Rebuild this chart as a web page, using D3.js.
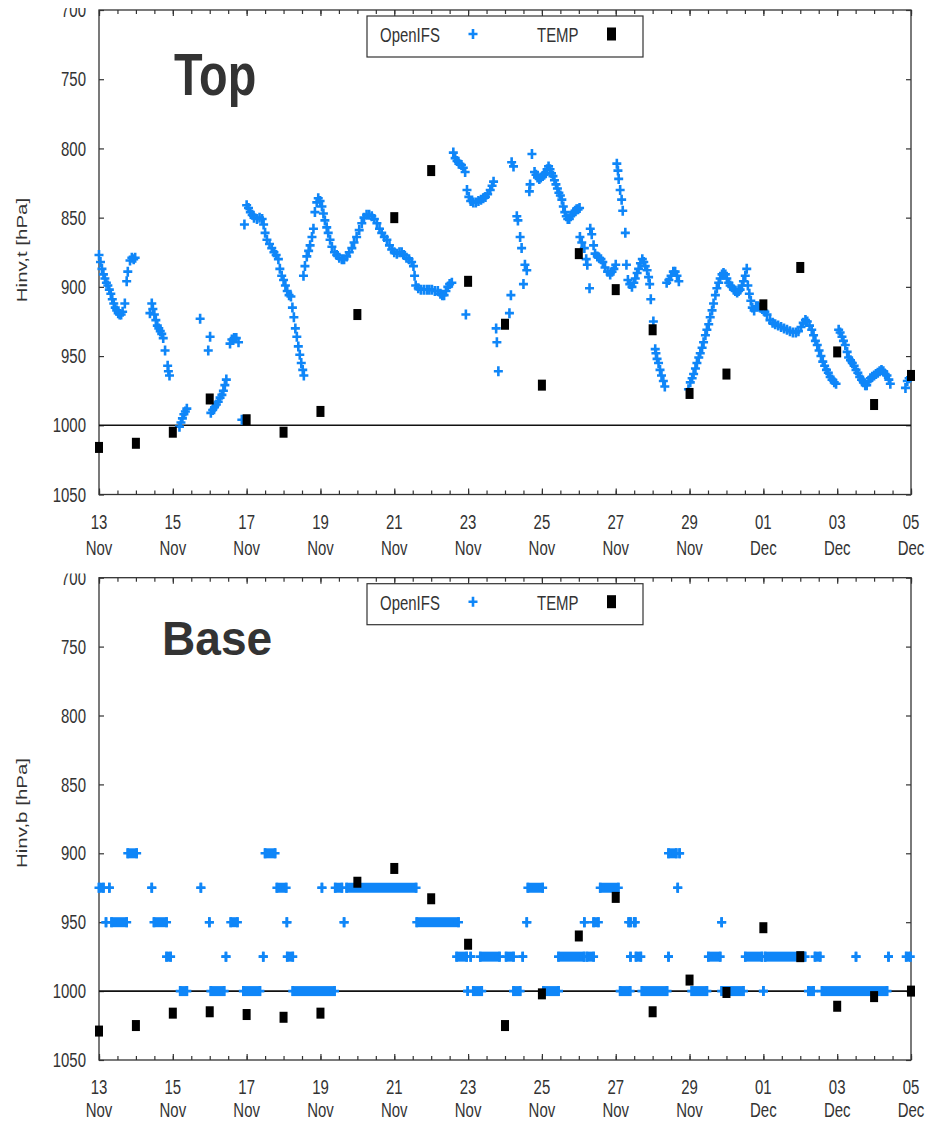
<!DOCTYPE html>
<html>
<head>
<meta charset="utf-8">
<script src="https://cdn.jsdelivr.net/npm/d3@7"></script>
<style>
  body { margin: 0; background: #fff; }
  svg { display: block; }
  text { font-family: "Liberation Sans", Arial, sans-serif; }
</style>
</head>
<body>
<div id="chart"></div>
<script>

// ---- data (days are counted as days of November, 31 = 01 Dec) ----

var tempDays = [13, 14, 15, 16, 17, 18, 19, 20, 21, 22, 23, 24, 25, 26, 27, 28, 29, 30, 31, 32, 33, 34, 35];

var tempTop = [1016, 1013, 1005, 981, 996, 1005, 990, 920, 850, 816, 896, 927, 971, 876, 902, 931, 977, 963, 913, 886, 947, 985, 964];

var tempBase = [1029, 1025, 1016, 1015, 1017, 1019, 1016, 921, 911, 933, 966, 1025, 1002, 960, 932, 1015, 992, 1001, 954, 975, 1011, 1004, 1000];

// OpenIFS inversion top [day, hPa]
var ifsTop = [
  [13.00, 877], [13.04, 882], [13.08, 887], [13.12, 891], [13.16, 894], [13.20, 897], [13.24, 899], [13.28, 902],
  [13.32, 905], [13.36, 909], [13.40, 912], [13.44, 915], [13.48, 917], [13.52, 919], [13.56, 920], [13.60, 920],
  [13.64, 918], [13.70, 912], [13.75, 896], [13.78, 889], [13.84, 881], [13.89, 879], [13.94, 880], [13.98, 879],
  [14.38, 919], [14.43, 912], [14.46, 916], [14.50, 920], [14.54, 924], [14.58, 928], [14.62, 930], [14.66, 932],
  [14.70, 934], [14.74, 937], [14.79, 946], [14.86, 957], [14.88, 961], [14.91, 964],
  [15.18, 1001], [15.22, 998], [15.26, 995], [15.30, 992], [15.34, 990], [15.38, 988],
  [15.74, 923], [15.96, 946], [16.01, 936],
  [16.03, 991], [16.08, 989], [16.13, 987], [16.18, 985], [16.23, 983], [16.28, 980], [16.33, 978], [16.37, 975],
  [16.41, 971], [16.45, 967],
  [16.55, 941], [16.60, 938], [16.66, 937], [16.72, 937], [16.78, 940],
  [16.87, 996],
  [16.94, 855], [17.00, 841], [17.05, 843], [17.10, 846], [17.15, 848], [17.20, 850], [17.28, 851], [17.35, 850],
  [17.42, 851], [17.46, 855], [17.50, 861], [17.55, 866], [17.62, 869], [17.68, 872], [17.74, 875], [17.80, 877],
  [17.86, 880], [17.90, 887], [17.95, 892], [18.00, 895], [18.05, 899], [18.10, 903], [18.15, 906], [18.20, 907],
  [18.24, 915], [18.28, 922], [18.32, 930], [18.36, 936], [18.40, 943], [18.44, 949], [18.48, 955], [18.52, 960],
  [18.55, 964],
  [18.54, 892], [18.58, 885], [18.63, 878], [18.68, 874], [18.72, 870], [18.77, 864], [18.81, 858], [18.85, 846],
  [18.90, 839], [18.94, 836], [18.99, 838], [19.04, 842], [19.08, 847], [19.12, 852], [19.17, 857], [19.21, 861],
  [19.26, 866], [19.31, 871], [19.38, 875], [19.44, 877], [19.51, 879], [19.58, 880], [19.64, 880], [19.71, 878],
  [19.78, 875], [19.85, 872], [19.91, 868], [19.98, 864], [20.05, 859], [20.12, 854], [20.18, 850], [20.25, 848],
  [20.32, 848], [20.39, 849], [20.46, 851], [20.53, 854], [20.60, 858], [20.66, 861], [20.73, 864], [20.80, 866],
  [20.87, 870], [20.93, 873], [21.00, 875], [21.07, 876], [21.14, 875], [21.20, 875], [21.26, 877], [21.33, 879],
  [21.40, 880], [21.47, 882], [21.52, 885], [21.55, 892], [21.58, 899], [21.65, 901], [21.72, 902], [21.80, 902],
  [21.88, 902], [21.95, 902], [22.02, 902], [22.10, 903], [22.18, 903], [22.25, 905], [22.30, 906], [22.35, 906],
  [22.40, 903], [22.45, 900], [22.50, 898], [22.56, 897],
  [22.60, 803], [22.65, 807], [22.70, 809], [22.75, 811], [22.82, 812], [22.87, 814], [22.92, 817], [22.94, 920],
  [22.97, 830], [23.02, 835], [23.07, 838], [23.14, 839], [23.21, 839], [23.28, 838], [23.35, 837], [23.41, 836],
  [23.47, 835], [23.53, 833], [23.60, 830], [23.65, 827], [23.69, 824],
  [23.76, 930], [23.78, 940], [23.82, 961], [24.12, 919], [24.16, 906], [24.18, 810], [24.23, 813], [24.32, 849],
  [24.35, 852], [24.41, 864], [24.45, 872], [24.50, 898], [24.54, 884], [24.59, 888], [24.66, 831], [24.68, 826],
  [24.73, 804], [24.80, 817], [24.84, 819], [24.88, 821], [24.93, 822], [24.97, 821], [25.02, 820], [25.06, 819],
  [25.10, 818], [25.14, 815], [25.18, 813], [25.22, 815], [25.26, 818], [25.30, 820], [25.34, 823], [25.38, 826],
  [25.42, 829], [25.46, 832], [25.50, 834], [25.54, 837], [25.58, 842], [25.62, 846], [25.66, 849], [25.70, 851],
  [25.74, 851], [25.78, 849], [25.82, 848], [25.86, 846], [25.90, 845], [25.94, 844], [25.98, 844], [26.02, 843],
  [26.03, 864], [26.08, 868], [26.15, 872], [26.20, 880], [26.23, 884], [26.29, 901], [26.31, 858], [26.35, 862],
  [26.40, 870], [26.44, 876], [26.50, 878], [26.55, 879],
  [26.60, 880], [26.65, 882], [26.71, 886], [26.78, 889], [26.85, 891], [26.90, 889], [26.95, 887], [27.00, 884],
  [27.03, 811], [27.06, 816], [27.08, 822], [27.12, 830], [27.16, 837], [27.19, 845], [27.26, 861], [27.29, 884],
  [27.33, 895], [27.38, 898], [27.44, 900], [27.49, 897], [27.53, 894], [27.58, 890], [27.62, 887], [27.67, 883],
  [27.72, 880], [27.76, 882], [27.80, 885], [27.85, 888], [27.89, 893], [27.92, 898], [27.95, 909], [28.02, 925],
  [28.07, 945], [28.09, 948], [28.12, 952], [28.16, 955], [28.20, 960], [28.24, 964], [28.29, 968], [28.33, 972],
  [28.38, 897], [28.44, 895], [28.50, 892], [28.56, 889], [28.61, 889], [28.66, 892], [28.71, 896],
  [28.97, 974], [29.02, 969], [29.07, 966], [29.11, 963], [29.16, 959], [29.20, 955], [29.25, 951], [29.29, 948],
  [29.34, 944], [29.38, 940], [29.43, 935], [29.47, 931], [29.52, 927], [29.56, 922], [29.61, 917], [29.65, 912],
  [29.70, 906], [29.74, 901], [29.79, 897], [29.83, 894], [29.88, 891], [29.92, 890], [29.97, 891], [30.01, 894],
  [30.06, 897], [30.10, 899], [30.15, 900], [30.20, 902], [30.24, 903], [30.29, 904], [30.33, 903], [30.37, 902],
  [30.42, 899], [30.46, 896], [30.51, 892], [30.55, 887], [30.58, 899], [30.62, 905], [30.66, 910], [30.70, 915],
  [30.75, 917], [30.80, 914], [30.85, 914], [30.91, 915], [30.97, 916], [31.04, 918], [31.10, 920], [31.18, 924],
  [31.25, 926], [31.32, 927], [31.40, 928], [31.48, 929], [31.56, 930], [31.64, 931], [31.72, 932], [31.80, 933],
  [31.88, 933], [31.95, 932], [32.02, 929], [32.08, 926], [32.14, 924], [32.19, 925], [32.25, 928], [32.31, 931],
  [32.36, 935], [32.41, 939], [32.46, 942], [32.51, 946], [32.56, 950], [32.61, 954], [32.66, 957], [32.71, 960],
  [32.76, 962], [32.81, 965], [32.86, 967], [32.92, 969], [32.97, 970],
  [33.04, 931], [33.08, 933], [33.13, 936], [33.17, 939], [33.22, 942], [33.27, 947], [33.31, 951], [33.36, 953],
  [33.41, 955], [33.46, 957], [33.51, 960], [33.56, 962], [33.61, 965], [33.66, 967], [33.71, 969], [33.76, 971],
  [33.80, 971], [33.85, 968], [33.90, 966], [33.95, 965], [34.00, 964], [34.05, 963], [34.10, 962], [34.15, 961],
  [34.20, 960], [34.25, 961], [34.30, 963], [34.35, 964], [34.40, 967], [34.44, 970],
  [34.85, 973], [34.90, 968], [34.95, 966]
];

// OpenIFS inversion base: model levels and the time spans [from, to] where each level is hit
var baseLevels = [900, 925, 950, 975, 1000];
var baseRuns = [
  [[13.78, 14.02], [17.50, 17.77], [28.43, 28.64], [28.73, 28.73]],
  [[13.00, 13.12], [13.28, 13.28], [14.43, 14.43], [15.76, 15.76], [17.82, 18.07], [19.04, 19.04], [19.40, 19.58],
   [19.71, 21.59], [24.62, 25.02], [26.58, 27.07], [28.68, 28.68]],
  [[13.19, 13.19], [13.34, 13.75], [14.49, 14.83], [15.99, 15.99], [16.57, 16.75], [18.09, 18.09], [19.64, 19.64],
   [21.61, 22.74], [24.59, 24.59], [26.15, 26.15], [26.40, 26.53], [27.35, 27.40], [27.50, 27.53], [29.87, 29.87]],
  [[14.83, 14.94], [16.44, 16.44], [17.45, 17.45], [18.10, 18.25], [22.69, 22.96], [23.07, 23.07], [23.33, 23.85],
   [24.03, 24.23], [24.48, 24.48], [25.45, 26.14], [26.22, 26.40], [27.40, 27.40], [27.55, 27.68], [28.43, 28.43],
   [29.51, 29.83], [30.51, 30.96], [31.05, 32.13], [32.40, 32.54], [33.51, 33.51], [34.39, 34.39], [34.87, 34.98]],
  [[15.20, 15.38], [16.03, 16.39], [16.91, 17.36], [18.25, 19.38], [22.99, 22.99], [23.14, 23.37], [24.23, 24.41],
   [25.04, 25.45], [27.12, 27.39], [27.71, 28.39], [29.06, 29.47], [29.87, 30.46], [31.00, 31.00], [32.22, 32.36],
   [32.59, 34.35]]
];

var pressureTicks = [700, 750, 800, 850, 900, 950, 1000, 1050];

// ---- layout ----

var width = 928;
var height = 1123;
var sx = 0.73;            // the picture is squeezed sideways, text too
var blue = '#0f86f8';
var ink = '#333';
var arm = 4.5;
var armWidth = 2.6;

function day2date(d) {
  return new Date(Date.UTC(2018, 10, 1) + (d - 1) * 864e5);
}

var x = d3.scaleUtc()
  .domain([day2date(13), day2date(35)])
  .range([99, 911]);

var svg = d3.select('#chart')
  .append('svg')
  .attr('width', width)
  .attr('height', height);

function label(g, px, py, str, size, anchor) {
  return g.append('text')
    .attr('transform', 'translate(' + px + ',' + py + ') scale(' + sx + ',1)')
    .attr('text-anchor', anchor)
    .attr('dy', '0.35em')
    .attr('font-size', size)
    .attr('fill', ink)
    .text(str);
}

function cross(g, px, py) {
  g.append('path')
    .attr('d', 'M' + (px - arm) + ',' + py + 'H' + (px + arm) + 'M' + px + ',' + (py - arm - 0.5) + 'V' + (py + arm + 0.5))
    .attr('stroke', blue)
    .attr('stroke-width', armWidth)
    .attr('fill', 'none');
}

function panel(opt) {
  var top = opt.top, bottom = opt.bottom;
  var left = x.range()[0], right = x.range()[1];

  var y = d3.scaleLinear().domain([700, 1050]).range([top, bottom]);
  var g = svg.append('g');

  // ticks on all four sides, pointing in
  var minor = d3.utcHour.every(12), major = d3.utcDay.every(2);
  g.append('g').attr('transform', 'translate(0,' + bottom + ')')
    .call(d3.axisBottom(x).ticks(minor).tickSize(-4).tickFormat(''));
  g.append('g').attr('transform', 'translate(0,' + bottom + ')')
    .call(d3.axisBottom(x).ticks(major).tickSize(-6).tickFormat(''));
  g.append('g').attr('transform', 'translate(0,' + top + ')')
    .call(d3.axisTop(x).ticks(minor).tickSize(-4).tickFormat(''));
  g.append('g').attr('transform', 'translate(0,' + top + ')')
    .call(d3.axisTop(x).ticks(major).tickSize(-6).tickFormat(''));
  g.append('g').attr('transform', 'translate(' + left + ',0)')
    .call(d3.axisLeft(y).tickValues(pressureTicks).tickSize(-5).tickFormat(''));
  g.append('g').attr('transform', 'translate(' + right + ',0)')
    .call(d3.axisRight(y).tickValues(pressureTicks).tickSize(-5).tickFormat(''));
  g.selectAll('.domain').remove();
  g.selectAll('.tick line').attr('stroke', ink).attr('stroke-width', 1.2);

  g.append('rect')
    .attr('x', left).attr('y', top)
    .attr('width', right - left).attr('height', bottom - top)
    .attr('fill', 'none').attr('stroke', ink).attr('stroke-width', 1.3);

  // tick labels
  pressureTicks.forEach(function (p) {
    label(g, 86, y(p), p, 20.5, 'end');
  });
  // top of the picture is cut, hiding half of the "700"
  g.append('rect').attr('x', 0).attr('y', opt.cutFrom).attr('width', 95)
    .attr('height', opt.cutTo - opt.cutFrom).attr('fill', '#fff');

  x.ticks(major).forEach(function (d) {
    label(g, x(d), bottom + 27, d3.utcFormat('%d')(d), 20.5, 'middle');
    label(g, x(d), bottom + opt.monthDy, d3.utcFormat('%b')(d), 20.5, 'middle');
  });

  g.append('text')
    .attr('transform', 'translate(22,' + opt.titleY + ') scale(' + sx + ',1) rotate(-90)')
    .attr('text-anchor', 'middle')
    .attr('dy', '0.35em')
    .attr('font-size', 20.5)
    .attr('fill', ink)
    .text(opt.yTitle);

  // 1000 hPa reference line
  g.append('line')
    .attr('x1', left).attr('x2', right)
    .attr('y1', y(1000)).attr('y2', y(1000))
    .attr('stroke', '#111').attr('stroke-width', 1.6);

  // OpenIFS
  var marks = g.append('g');
  opt.drawModel(marks, y);

  // TEMP soundings
  g.selectAll('.temp')
    .data(opt.temp)
    .enter().append('rect')
    .attr('class', 'temp')
    .attr('x', function (d, i) { return x(day2date(tempDays[i])) - 4; })
    .attr('y', function (d) { return y(d) - 5.5; })
    .attr('width', 8)
    .attr('height', 11)
    .attr('fill', '#000');

  // panel name
  g.append('text')
    .attr('transform', 'translate(' + opt.nameX + ',' + (top + opt.nameBase) + ') scale(' + opt.nameSx + ',1)')
    .attr('font-size', opt.nameSize)
    .attr('font-weight', 'bold')
    .attr('fill', ink)
    .text(opt.name);

  // legend
  var lg = g.append('g').attr('transform', 'translate(0,' + top + ')');
  lg.append('rect')
    .attr('x', 367).attr('y', 6).attr('width', 276).attr('height', 41)
    .attr('fill', '#fff').attr('stroke', ink).attr('stroke-width', 1.2);
  label(lg, 380, 25, 'OpenIFS', 20.5, 'start');
  cross(lg, 473, 24);
  label(lg, 537, 25, 'TEMP', 20.5, 'start');
  lg.append('rect').attr('x', 607).attr('y', 17.5).attr('width', 9).attr('height', 13).attr('fill', '#000');
}

panel({
  top: 10, bottom: 494.5,
  cutFrom: 0, cutTo: 8,
  monthDy: 53,
  yTitle: 'Hinv,t [hPa]', titleY: 250,
  temp: tempTop,
  name: 'Top', nameX: 174, nameBase: 85, nameSize: 60, nameSx: 0.78,
  drawModel: function (g, y) {
    ifsTop.forEach(function (d) {
      cross(g, x(day2date(d[0])), y(d[1]));
    });
  }
});

panel({
  top: 577.7, bottom: 1060,
  cutFrom: 556, cutTo: 573.5,
  monthDy: 50,
  yTitle: 'Hinv,b [hPa]', titleY: 813,
  temp: tempBase,
  name: 'Base', nameX: 162, nameBase: 77.5, nameSize: 48, nameSx: 0.96,
  drawModel: function (g, y) {
    baseLevels.forEach(function (p, k) {
      baseRuns[k].forEach(function (r) {
        var x0 = x(day2date(r[0])), x1 = x(day2date(r[1]));
        if (x1 > x0) {
          g.append('rect')
            .attr('x', x0 - armWidth / 2).attr('y', y(p) - arm - 0.5)
            .attr('width', x1 - x0 + armWidth).attr('height', 2 * arm + 1)
            .attr('fill', blue);
        }
        cross(g, x0, y(p));
        cross(g, x1, y(p));
      });
    });
  }
});

</script>
</body>
</html>
